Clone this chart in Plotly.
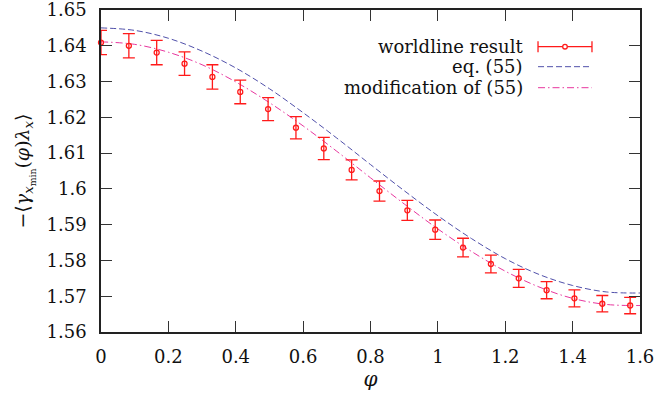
import plotly.graph_objects as go

# worldline result data
phi_pts = [0.0, 0.0827, 0.1653, 0.2480, 0.3307, 0.4134, 0.4960, 0.5787, 0.6614, 0.7440,
           0.8267, 0.9094, 0.9921, 1.0747, 1.1574, 1.2401, 1.3228, 1.4054, 1.4881, 1.5708]
val_pts = [1.6409, 1.6400, 1.6381, 1.6350, 1.6313, 1.6271, 1.6223, 1.6171, 1.6113, 1.6053,
           1.5994, 1.5940, 1.5886, 1.5836, 1.5790, 1.5750, 1.5717, 1.5694, 1.5679, 1.5674]
err_pts = [0.0034, 0.0034, 0.0034, 0.0033, 0.0034, 0.0033, 0.0032, 0.0031, 0.0031, 0.0028,
           0.0028, 0.0028, 0.0027, 0.0026, 0.0025, 0.0025, 0.0024, 0.0024, 0.0023, 0.0023]

# curves
phi_curve = [0.0, 0.1, 0.2, 0.3, 0.4, 0.5, 0.6, 0.7, 0.8, 0.9, 1.0, 1.1, 1.2, 1.3, 1.4, 1.5, 1.6]
eq55 = [1.6450, 1.6443, 1.6421, 1.6385, 1.6338, 1.6280, 1.6213, 1.6142, 1.6068, 1.5995,
        1.5925, 1.5861, 1.5805, 1.5761, 1.5730, 1.5712, 1.5709]
mod55 = [1.6411, 1.6404, 1.6382, 1.6347, 1.6299, 1.6241, 1.6176, 1.6105, 1.6031, 1.5958,
         1.5888, 1.5825, 1.5770, 1.5726, 1.5694, 1.5677, 1.5674]

x_ticks = [0, 0.2, 0.4, 0.6, 0.8, 1.0, 1.2, 1.4, 1.6]
x_tick_labels = ["0", "0.2", "0.4", "0.6", "0.8", "1", "1.2", "1.4", "1.6"]
y_ticks = [1.56, 1.57, 1.58, 1.59, 1.60, 1.61, 1.62, 1.63, 1.64, 1.65]
y_tick_labels = ["1.56", "1.57", "1.58", "1.59", "1.6", "1.61", "1.62", "1.63", "1.64", "1.65"]

legend_labels = ["worldline result", "eq. (55)", "modification of (55)"]

RED = "#ff1a1a"
BLUE = "#5050aa"
PINK = "#e8369e"
FONT = "DejaVu Serif"

fig = go.Figure()
fig.add_trace(go.Scatter(
    x=phi_curve, y=eq55, mode="lines", line_shape="spline",
    line=dict(color=BLUE, width=1, dash="6px,3px"), showlegend=False))
fig.add_trace(go.Scatter(
    x=phi_curve, y=mod55, mode="lines", line_shape="spline",
    line=dict(color=PINK, width=1, dash="7px,3px,1.5px,3px"), showlegend=False))
fig.add_trace(go.Scatter(
    x=phi_pts, y=val_pts, mode="markers",
    marker=dict(symbol="circle-open", size=5, color=RED, line=dict(width=1.3, color=RED)),
    error_y=dict(type="data", array=err_pts, visible=True, color=RED, thickness=1.3, width=6),
    showlegend=False, cliponaxis=False))

axis_common = dict(
    showline=True, linecolor="#222", linewidth=1.5, mirror="ticks",
    ticks="inside", ticklen=11, tickwidth=1, tickcolor="#333",
    showgrid=False, zeroline=False, automargin=False, ticklabeloverflow="allow",
    tickfont=dict(family=FONT, size=18, color="#111"),
)

fig.update_xaxes(range=[0, 1.6], tickvals=x_ticks, ticktext=x_tick_labels,
                 title=dict(text="<i>φ</i>", font=dict(family=FONT, size=20, color="#111"), standoff=4),
                 ticklabelstandoff=8, **axis_common)
fig.update_yaxes(range=[1.56, 1.65], tickvals=y_ticks, ticktext=y_tick_labels,
                 title=dict(text="−⟨<i>γ</i><sub><i>x</i><sub>min</sub></sub>(<i>φ</i>)<i>λ</i><sub><i>x</i></sub>⟩",
                            font=dict(family=FONT, size=19, color="#111"), standoff=12),
                 ticklabelstandoff=9, **axis_common)

# custom legend (text right-aligned, sample on the right)
text_x = 0.7866
row_y = [0.886, 0.824, 0.7587]
samp_x0, samp_x1 = 0.8108, 0.9109
annotations = []
for lab, yy in zip(legend_labels, row_y):
    annotations.append(dict(text=lab, x=text_x, y=yy, xref="paper", yref="paper",
                            xanchor="right", yanchor="middle", showarrow=False,
                            font=dict(family=FONT, size=18, color="#111")))
shapes = [
    dict(type="line", xref="paper", yref="paper", x0=samp_x0, x1=samp_x1, y0=row_y[0], y1=row_y[0],
         line=dict(color=RED, width=1.3)),
    dict(type="line", xref="paper", yref="paper", x0=samp_x0, x1=samp_x0, ysizemode="pixel",
         yanchor=row_y[0], y0=-5.5, y1=5.5, line=dict(color=RED, width=1.3)),
    dict(type="line", xref="paper", yref="paper", x0=samp_x1, x1=samp_x1, ysizemode="pixel",
         yanchor=row_y[0], y0=-5.5, y1=5.5, line=dict(color=RED, width=1.3)),
    dict(type="circle", xref="paper", yref="paper", xsizemode="pixel", ysizemode="pixel",
         xanchor=(samp_x0 + samp_x1) / 2, yanchor=row_y[0], x0=-2.3, x1=2.3, y0=-2.3, y1=2.3,
         line=dict(color=RED, width=1.3), fillcolor="white"),
    dict(type="line", xref="paper", yref="paper", x0=samp_x0, x1=samp_x1, y0=row_y[1], y1=row_y[1],
         line=dict(color=BLUE, width=1, dash="6px,3px")),
    dict(type="line", xref="paper", yref="paper", x0=samp_x0, x1=samp_x1, y0=row_y[2], y1=row_y[2],
         line=dict(color=PINK, width=1, dash="7px,3px,1.5px,3px")),
]

fig.update_layout(
    width=655, height=401,
    margin=dict(l=101, r=15, t=10, b=69),
    paper_bgcolor="white", plot_bgcolor="white",
    annotations=annotations, shapes=shapes,
    showlegend=False,
)

fig.write_html("out.html", config={"displayModeBar": False},
               post_script="document.body.style.margin='0';document.body.style.padding='0';")
